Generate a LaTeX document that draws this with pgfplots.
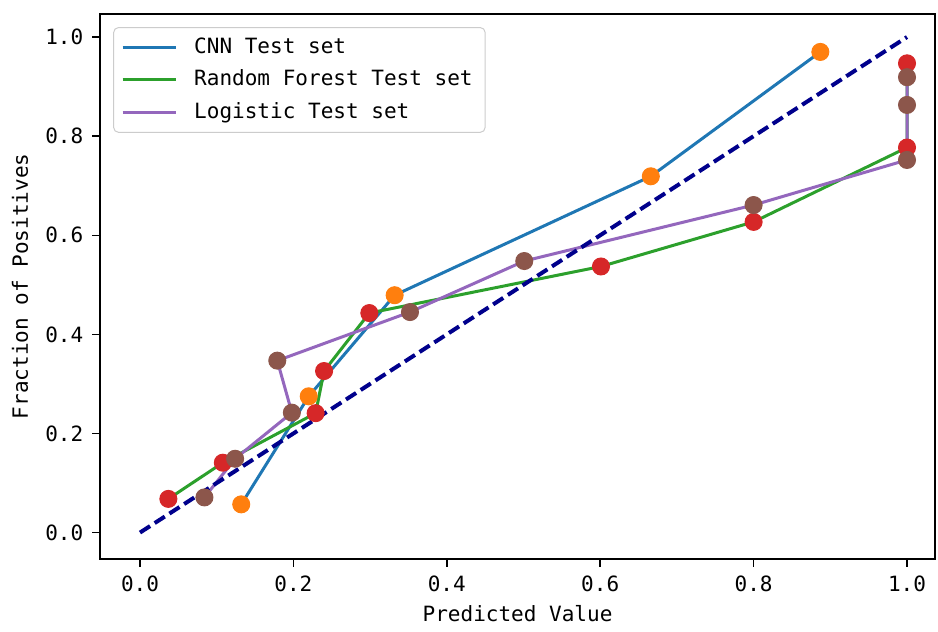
\documentclass[border=0pt]{standalone}
\usepackage{fontspec}
\setmainfont{DejaVu Sans Mono}
\usepackage{pgfplots}
\pgfplotsset{compat=1.18}
\definecolor{c0}{HTML}{1F77B4}
\definecolor{c1}{HTML}{FF7F0E}
\definecolor{c2}{HTML}{2CA02C}
\definecolor{c3}{HTML}{D62728}
\definecolor{c4}{HTML}{9467BD}
\definecolor{c5}{HTML}{8C564B}
\newcommand{\fs}{\fontsize{8.4}{10}\selectfont}
\begin{document}
\begin{tikzpicture}
\begin{axis}[
  scale only axis,
  width=333.6pt, height=217.6pt,
  xmin=-0.052, xmax=1.0365,
  ymin=-0.0525, ymax=1.0465,
  xtick={0,0.2,0.4,0.6,0.8,1.0},
  ytick={0,0.2,0.4,0.6,0.8,1.0},
  xticklabel style={/pgf/number format/.cd, fixed, fixed zerofill, precision=1, assume math mode=true},
  yticklabel style={/pgf/number format/.cd, fixed, fixed zerofill, precision=1, assume math mode=true},
  tick label style={font=\fs},
  label style={font=\fs},
  tick align=outside,
  xtick pos=bottom, ytick pos=left,
  major tick length=3.2pt,
  every tick/.style={black, line width=0.6pt},
  axis line style={line width=0.8pt, black},
  xlabel={Predicted Value},
  ylabel={Fraction of Positives},
  xlabel style={at={(axis description cs:0.5,-0.1011)}, anchor=center},
  ylabel style={at={(axis description cs:-0.0959,0.5)}, anchor=center},
  legend cell align=left,
  legend style={at={(axis description cs:0,1)}, anchor=north west, xshift=5.2pt, yshift=-5.2pt,
    draw=black!20, rounded corners=2pt, font=\fs, row sep=1.2pt, inner xsep=3pt, inner ysep=2pt},
  legend image code/.code={\draw[#1, line width=1.2pt] (0pt,0pt) -- (21.5pt,0pt); \path (26pt,0pt);},
]
% lines
\addplot[c0, line width=1.2pt] coordinates {
  (0.132,0.057) (0.220,0.275) (0.332,0.479) (0.666,0.719) (0.887,0.970)};
\addlegendentry{CNN Test set}
\addplot[c2, line width=1.2pt] coordinates {
  (0.037,0.068) (0.108,0.141) (0.229,0.241) (0.240,0.326) (0.299,0.443)
  (0.601,0.537) (0.800,0.627) (1.000,0.777) (1.000,0.947)};
\addlegendentry{Random Forest Test set}
\addplot[c4, line width=1.2pt] coordinates {
  (0.084,0.071) (0.124,0.149) (0.198,0.242) (0.179,0.347) (0.352,0.445)
  (0.501,0.548) (0.800,0.661) (1.000,0.752) (1.000,0.863) (1.000,0.919)};
\addlegendentry{Logistic Test set}
% diagonal
\addplot[color={rgb,255:red,0;green,0;blue,140}, line width=1.6pt, dash pattern=on 4.8pt off 2.2pt, forget plot] coordinates {(0,0) (1,1)};
% markers
\addplot[only marks, mark=*, mark size=3.4pt, c1, mark options={draw=none, fill=c1}, forget plot] coordinates {
  (0.132,0.057) (0.220,0.275) (0.332,0.479) (0.666,0.719) (0.887,0.970)};
\addplot[only marks, mark=*, mark size=3.4pt, c3, mark options={draw=none, fill=c3}, forget plot] coordinates {
  (0.037,0.068) (0.108,0.141) (0.229,0.241) (0.240,0.326) (0.299,0.443)
  (0.601,0.537) (0.800,0.627) (1.000,0.777) (1.000,0.947)};
\addplot[only marks, mark=*, mark size=3.4pt, c5, mark options={draw=none, fill=c5}, forget plot] coordinates {
  (0.084,0.071) (0.124,0.149) (0.198,0.242) (0.179,0.347) (0.352,0.445)
  (0.501,0.548) (0.800,0.661) (1.000,0.752) (1.000,0.863) (1.000,0.919)};
\end{axis}
\pgfresetboundingbox
\path ([shift={(-40pt,-29.2pt)}]current axis.south west) rectangle ([shift={(1.2pt,5.6pt)}]current axis.north east);
\end{tikzpicture}
\end{document}
